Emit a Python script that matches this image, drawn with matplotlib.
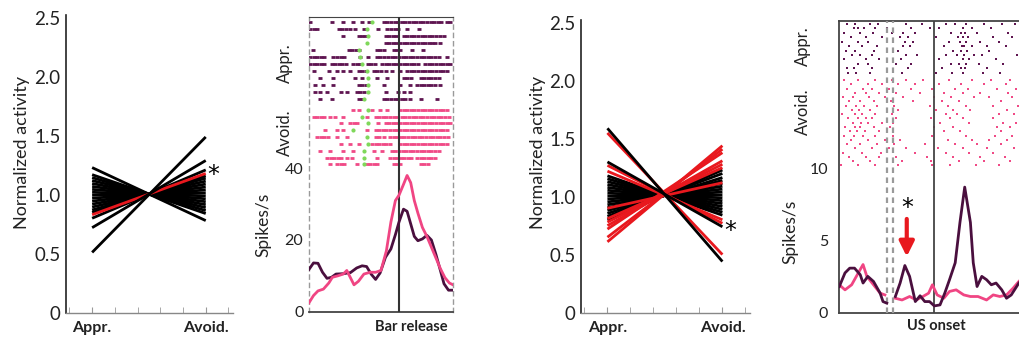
import numpy as np
import matplotlib
matplotlib.use('Agg')
import matplotlib.pyplot as plt

plt.rcParams['font.family'] = ['Lato', 'DejaVu Sans']

# ---------------- data ----------------
cond_labels = ['Appr.', 'Avoid.']

# panel 1: normalized activity (black = all neurons, red = significant)
p1_black_appr = [1.23, 1.17, 1.145, 1.12, 1.095, 1.07, 1.045, 1.02, 0.995, 0.97, 0.945, 0.92, 0.895, 0.87, 0.85, 0.80, 0.72, 0.51]
p1_black_avoid = [0.78, 0.84, 0.865, 0.89, 0.915, 0.94, 0.965, 0.99, 1.015, 1.04, 1.065, 1.09, 1.115, 1.14, 1.16, 1.21, 1.29, 1.49]
p1_red_appr = [0.83]
p1_red_avoid = [1.18]

# panel 3
p3_black_appr = [1.59, 1.30, 1.18, 1.155, 1.13, 1.105, 1.08, 1.055, 1.03, 1.005, 0.98, 0.955, 0.93, 0.905, 0.88, 0.855, 0.83, 0.80]
p3_black_avoid = [0.44, 0.74, 0.84, 0.865, 0.89, 0.915, 0.94, 0.965, 0.99, 1.015, 1.04, 1.065, 1.09, 1.115, 1.14, 1.165, 1.20, 1.23]
p3_red_appr = [1.55, 1.27, 1.22, 0.90, 0.81, 0.78, 0.75, 0.72, 0.65, 0.61]
p3_red_avoid = [0.50, 0.77, 0.80, 1.12, 1.25, 1.28, 1.31, 1.38, 1.41, 1.44]

# panel 2: PSTH around bar release (s, spikes/s)
p2_appr_t = [-1.0, -0.95, -0.90, -0.85, -0.80, -0.75, -0.70, -0.62, -0.54, -0.47, -0.41, -0.36, -0.31, -0.26, -0.21, -0.15,
             -0.09, -0.04, 0.0, 0.05, 0.09, 0.13, 0.17, 0.21, 0.26, 0.31, 0.36, 0.41, 0.46, 0.50, 0.55, 0.60]
p2_appr_v = [11.8, 13.6, 13.5, 11.0, 9.3, 9.6, 10.5, 10.6, 10.9, 12.2, 12.8, 12.6, 10.5, 9.0, 10.8, 15.2,
             17.5, 21.5, 25.0, 28.6, 28.0, 24.5, 21.0, 19.8, 20.3, 21.3, 20.0, 16.0, 11.5, 7.8, 6.0, 6.0]
p2_avoid_t = [-1.0, -0.95, -0.90, -0.84, -0.78, -0.74, -0.68, -0.62, -0.58, -0.54, -0.50, -0.45, -0.39, -0.32, -0.26, -0.20,
              -0.14, -0.09, -0.04, 0.0, 0.05, 0.09, 0.13, 0.17, 0.21, 0.26, 0.31, 0.36, 0.41, 0.46, 0.51, 0.56, 0.60]
p2_avoid_v = [2.5, 4.5, 5.8, 6.3, 8.0, 9.6, 10.0, 10.5, 11.5, 9.5, 7.5, 8.5, 10.5, 11.0, 11.0, 11.5,
              17.0, 25.0, 31.0, 32.5, 35.5, 38.0, 36.0, 31.0, 27.5, 23.5, 21.0, 18.0, 15.0, 12.0, 9.5, 8.0, 7.5]

# panel 2 raster: spike times (s) per trial
p2_appr_spikes = [
    [-0.99, -0.74, -0.62, -0.51, -0.41, -0.33, -0.17, -0.13, -0.09, -0.05, -0.01, 0.03, 0.07, 0.11, 0.15, 0.19, 0.23, 0.27, 0.31, 0.35, 0.39, 0.43, 0.47, 0.53, 0.57],
    [-0.99, -0.95, -0.91, -0.67, -0.63, -0.59, -0.55, -0.49, -0.39, -0.23, -0.13, -0.09, -0.05, -0.01, 0.09, 0.22],
    [-0.62, -0.45, -0.41, -0.38, -0.15, -0.11, -0.07, -0.03, 0.05, 0.09, 0.13, 0.17, 0.21, 0.25, 0.29, 0.33, 0.37, 0.41, 0.45, 0.50],
    [-0.15, -0.11, -0.07, -0.03, 0.01, 0.05, 0.09, 0.13, 0.17, 0.21, 0.25, 0.29, 0.33, 0.37, 0.40, 0.46],
    [-0.96, -0.56, -0.52, -0.48, -0.44, -0.25, -0.21, -0.17, -0.06, -0.02, 0.01, 0.14, 0.27],
    [-0.99, -0.95, -0.91, -0.87, -0.83, -0.73, -0.69, -0.65, -0.61, -0.43, -0.34, -0.25, -0.21, -0.17, -0.12, -0.08, -0.04, 0.0, 0.04, 0.08, 0.12, 0.16, 0.20, 0.24, 0.28, 0.32, 0.36, 0.40, 0.44, 0.53],
    [-0.99, -0.95, -0.91, -0.87, -0.83, -0.75, -0.71, -0.67, -0.63, -0.59, -0.51, -0.47, -0.43, -0.35, -0.31, -0.27, -0.19, -0.15, -0.11, -0.07, -0.03, 0.01, 0.05, 0.09, 0.13, 0.17, 0.21, 0.29, 0.33, 0.37, 0.41, 0.45, 0.49, 0.53, 0.57],
    [-0.95, -0.78, -0.69, -0.62, -0.54, -0.45, -0.41, -0.37, -0.28, -0.24, -0.20, -0.14, -0.08, 0.01, 0.09, 0.13, 0.17, 0.21, 0.25, 0.29, 0.33, 0.37, 0.41, 0.45, 0.49, 0.53],
    [-0.88, -0.73, -0.49, -0.41, -0.25, -0.13, 0.05, 0.09, 0.13, 0.24, 0.28, 0.32, 0.36, 0.40, 0.44],
    [-0.93, -0.84, -0.73, -0.45, -0.41, -0.37, -0.17, 0.01, 0.12, 0.20, 0.24, 0.28, 0.32, 0.36, 0.40, 0.46],
    [-0.93, -0.88, -0.80, -0.65, -0.58, -0.47, -0.43, -0.39, -0.15, -0.01, 0.05, 0.12],
    [-0.88, -0.75, -0.45, -0.41, -0.17, -0.13, -0.09, -0.05, -0.01, 0.03, 0.07, 0.12, 0.24, 0.42],
]
p2_avoid_spikes = [
    [-0.51, -0.45, -0.30, -0.21, -0.13, 0.01, 0.05, 0.09, 0.13, 0.17, 0.21, 0.25, 0.29, 0.33, 0.37, 0.41, 0.45, 0.49, 0.53],
    [-0.95, -0.91, -0.87, -0.83, -0.77, -0.71, -0.62, -0.36, -0.26, -0.22, -0.18, -0.14, -0.10, -0.06, -0.02, 0.03, 0.07, 0.11, 0.15, 0.19, 0.23, 0.27, 0.31, 0.35, 0.39, 0.43, 0.47, 0.51, 0.55],
    [-0.65, -0.54, -0.50, -0.47, -0.23, -0.15, -0.11, -0.07, -0.03, 0.01, 0.05, 0.09, 0.13, 0.17, 0.21, 0.25, 0.29, 0.33, 0.37, 0.41, 0.45, 0.49, 0.53, 0.57],
    [-0.82, -0.69, -0.62, -0.36, -0.26, -0.22, -0.18, -0.14, -0.10, -0.06, -0.02, 0.01, 0.05, 0.09, 0.13, 0.17, 0.21, 0.25, 0.29, 0.33, 0.37, 0.41, 0.45, 0.49, 0.53],
    [-0.91, -0.87, -0.83, -0.79, -0.69, -0.58, -0.26, -0.22, -0.17, -0.10, -0.06, -0.02, 0.02, 0.06, 0.10, 0.14, 0.18, 0.22, 0.26, 0.30, 0.34, 0.38, 0.42, 0.46, 0.50, 0.54],
    [-0.65, -0.54, -0.45, -0.30, -0.26, -0.22, -0.18, -0.14, -0.10, 0.01, 0.05, 0.09, 0.13, 0.17, 0.21, 0.25, 0.29, 0.33, 0.37, 0.41, 0.45, 0.49, 0.53],
    [-0.88, -0.77, -0.62, -0.51, -0.28, -0.19, -0.08, -0.04, 0.0, 0.04, 0.08, 0.12, 0.16, 0.20, 0.24, 0.28, 0.32, 0.36, 0.40, 0.44],
    [-0.80, -0.76, -0.72, -0.68, -0.64, -0.58, -0.52, -0.25, -0.10, -0.06, -0.02, 0.02, 0.06, 0.10, 0.13, 0.20, 0.24, 0.28, 0.32, 0.36, 0.40],
    [-0.77, -0.69, -0.65, -0.61, -0.47, -0.36, -0.32, -0.28, -0.24, -0.06, -0.02, 0.01, 0.24, 0.28, 0.32],
]
p2_appr_cue = [-0.30, -0.36, -0.34, -0.36, -0.44, -0.43, -0.41, -0.36, -0.34, -0.34, -0.34, -0.39]
p2_avoid_cue = [-0.34, -0.41, -0.34, -0.51, -0.36, -0.34, -0.39, -0.39, -0.39]

# panel 4: PSTH around US onset (nan = gap)
nan = float('nan')
p4_appr_t = [-1.0, -0.94, -0.89, -0.84, -0.78, -0.75, -0.70, -0.64, -0.57, -0.54, -0.50, nan, -0.41, -0.36, -0.31, -0.26, -0.20,
             -0.15, -0.10, -0.05, 0.0, 0.06, 0.11, 0.16, 0.22, 0.27, 0.32, 0.38, 0.41, 0.45, 0.50, 0.55, 0.60, 0.65, 0.71, 0.76, 0.81, 0.89]
p4_appr_v = [1.83, 2.77, 3.1, 3.1, 2.65, 2.07, 2.53, 2.18, 1.37, 0.79, 0.68, nan, 1.14, 2.07, 3.28, 2.53, 0.79,
             1.19, 0.79, 0.79, 0.49, 0.56, 1.37, 2.3, 3.47, 6.26, 8.7, 6.26, 3.47, 1.83, 2.53, 2.3, 1.95, 2.07, 1.6, 1.02, 1.25, 2.07]
p4_avoid_t = [-1.0, -0.94, -0.87, -0.80, -0.75, -0.71, -0.64, -0.57, -0.52, nan, -0.41, -0.34, -0.26, -0.19, -0.12, -0.06,
              -0.02, 0.03, 0.10, 0.16, 0.23, 0.31, 0.38, 0.46, 0.55, 0.62, 0.69, 0.76, 0.83, 0.89]
p4_avoid_v = [1.95, 1.6, 1.95, 2.77, 3.35, 2.53, 1.95, 1.37, 1.25, nan, 1.02, 0.9, 1.14, 0.9, 1.14, 1.37,
              1.95, 1.25, 1.02, 1.49, 1.6, 1.25, 1.14, 1.14, 0.9, 1.25, 1.14, 1.25, 1.72, 2.18]

p4_appr_spikes = [
    [-0.92, -0.83, -0.68, -0.59, -0.30, -0.13, 0.12, 0.22, 0.33, 0.52, 0.71, 0.85],
    [-0.85, -0.80, -0.74, -0.62, -0.50, -0.25, -0.05, 0.05, 0.30, 0.40, 0.60],
    [-0.95, -0.78, -0.65, -0.45, -0.33, -0.20, 0.18, 0.28, 0.32, 0.45, 0.78],
    [-0.88, -0.72, -0.55, -0.36, -0.28, 0.02, 0.25, 0.30, 0.35, 0.62, 0.82],
    [-0.97, -0.80, -0.70, -0.31, -0.22, 0.15, 0.27, 0.33, 0.48, 0.68],
    [-0.90, -0.76, -0.60, -0.33, -0.26, 0.10, 0.29, 0.31, 0.40, 0.55, 0.75],
    [-0.93, -0.84, -0.63, -0.38, 0.20, 0.28, 0.34, 0.58],
    [-0.87, -0.78, -0.66, -0.30, -0.18, 0.12, 0.24, 0.31, 0.42, 0.50, 0.87],
    [-0.95, -0.72, -0.58, -0.35, 0.05, 0.30, 0.36, 0.65],
    [-0.80, -0.70, -0.40, -0.25, 0.18, 0.26, 0.33, 0.47, 0.72],
    [-0.92, -0.85, -0.66, -0.28, 0.08, 0.28, 0.32, 0.55],
    [-0.91, -0.82, -0.68, -0.34, 0.02, 0.19, 0.30, 0.51, 0.69],
]
p4_avoid_spikes = [
    [-0.95, -0.80, -0.62, -0.45, -0.30, -0.12, 0.15, 0.40, 0.60, 0.80],
    [-0.88, -0.70, -0.55, -0.38, -0.20, 0.05, 0.28, 0.52, 0.75],
    [-0.92, -0.75, -0.66, -0.48, -0.25, -0.02, 0.22, 0.35, 0.66, 0.86],
    [-0.84, -0.72, -0.58, -0.40, -0.15, 0.10, 0.30, 0.48, 0.78],
    [-0.96, -0.86, -0.69, -0.52, -0.33, 0.00, 0.18, 0.42, 0.58, 0.82],
    [-0.90, -0.78, -0.64, -0.46, -0.22, 0.08, 0.26, 0.70],
    [-0.93, -0.82, -0.74, -0.60, -0.42, -0.05, 0.14, 0.33, 0.62, 0.88],
    [-0.87, -0.79, -0.68, -0.50, -0.38, 0.02, 0.20, 0.38, 0.76],
    [-0.97, -0.84, -0.76, -0.62, -0.45, 0.12, 0.24, 0.68, 0.84],
    [-0.91, -0.80, -0.72, -0.66, -0.40, -0.03, 0.16, 0.30, 0.62],
    [-0.86, -0.77, -0.70, -0.55, -0.43, 0.06, 0.36, 0.72, 0.86],
    [-0.94, -0.83, -0.78, -0.64, -0.47, 0.00, 0.20, 0.66, 0.80],
    [-0.89, -0.81, -0.73, -0.58, 0.10, 0.27, 0.70],
    [-0.95, -0.85, -0.75, -0.62, -0.44, -0.02, 0.33, 0.64, 0.82],
    [-0.88, -0.70, -0.52, -0.36, 0.14, 0.40, 0.58, 0.76],
    [-0.92, -0.78, -0.60, -0.42, -0.10, 0.22, 0.45, 0.70],
    [-0.84, -0.66, -0.48, -0.30, 0.04, 0.30, 0.55, 0.84],
    [-0.96, -0.76, -0.56, -0.20, 0.12, 0.36, 0.62],
    [-0.90, -0.72, -0.58, -0.40, -0.08, 0.20, 0.48, 0.74],
    [-0.86, -0.68, -0.50, -0.34, -0.04, 0.26, 0.52, 0.80],
    [-0.98, -0.80, -0.62, -0.38, -0.02, 0.16, 0.44, 0.68],
]

# ---------------- style ----------------
DARK = '#4a0f3e'
PINK = '#f04583'
RAST_DARK = '#5e1450'
RAST_PINK = '#f04a86'
CUE = '#7fd85a'
RED = '#e8181e'

W, H = 1019, 341
fig = plt.figure(figsize=(W / 100, H / 100), dpi=100)


def ax_px(l, t, r, b):
    return fig.add_axes([l / W, 1 - b / H, (r - l) / W, (b - t) / H])


def ftext(x, y, s, **kw):
    fig.text(x / W, 1 - y / H, s, **kw)


def fan_panel(ax, b_appr, b_avoid, r_appr, r_avoid):
    for a, v in zip(b_appr, b_avoid):
        z = 3 if abs(a - 1) > 0.25 else 2
        ax.plot([0, 1], [a, v], color='black', lw=2.0, solid_capstyle='butt', zorder=z)
    for a, v in zip(r_appr, r_avoid):
        ax.plot([0, 1], [a, v], color=RED, lw=2.0, solid_capstyle='butt', zorder=2.5)
    ax.set_xlim(-0.23, 1.24)
    ax.set_ylim(0, 2.525)
    for s in ['top', 'right']:
        ax.spines[s].set_visible(False)
    ax.spines['left'].set_color('#222222')
    ax.spines['left'].set_linewidth(1.2)
    ax.spines['bottom'].set_color('#888888')
    ax.spines['bottom'].set_linewidth(1.0)
    ax.set_yticks([0, 0.5, 1.0, 1.5, 2.0, 2.5])
    ax.set_yticklabels(['0', '0.5', '1.0', '1.5', '2.0', '2.5'])
    ax.tick_params(axis='y', length=0, pad=4, labelsize=13.5, labelcolor='#222222')
    ax.set_xticks([0, 1])
    ax.set_xticklabels(cond_labels, fontweight='bold', fontsize=11.5, color='#222222')
    ax.set_xticks([-0.2, 0.2, 0.4, 0.6, 0.8, 1.2], minor=True)
    ax.tick_params(axis='x', which='both', direction='in', length=4, color='#999999', pad=6)


# ---------- panel 1 ----------
ax1 = ax_px(66, 15, 233, 312.5)
fan_panel(ax1, p1_black_appr, p1_black_avoid, p1_red_appr, p1_red_avoid)
ax1.text(1.065, 1.17, '*', fontsize=17, ha='center', va='center', family='DejaVu Sans')
ftext(22, 152, 'Normalized activity', rotation=90, ha='center', va='center', fontsize=13, color='#222222')

# ---------- panel 3 ----------
ax3 = ax_px(581, 20, 750, 312.5)
fan_panel(ax3, p3_black_appr, p3_black_avoid, p3_red_appr, p3_red_avoid)
ax3.text(1.065, 0.70, '*', fontsize=17, ha='center', va='center', family='DejaVu Sans')
ftext(538, 152, 'Normalized activity', rotation=90, ha='center', va='center', fontsize=13, color='#222222')

# ---------- panel 2 ----------
ax2 = ax_px(309, 17, 453, 311.7)
ax2.set_xlim(-1.0, 0.6)
ax2.set_ylim(0, 82.2)
ax2.axvline(0, color='#333333', lw=1.5, zorder=4)
for i, row in enumerate(p2_appr_spikes):
    y = 80.7 - i * 1.945
    ax2.plot(row, [y] * len(row), ls='none', marker='_', ms=3.4, mew=2.0, color=RAST_DARK, zorder=2)
    ax2.plot([p2_appr_cue[i]], [y], ls='none', marker='o', ms=3.0, mew=0, color=CUE, zorder=3)
for i, row in enumerate(p2_avoid_spikes):
    y = 56.3 - i * 1.9
    ax2.plot(row, [y] * len(row), ls='none', marker='_', ms=3.4, mew=2.0, color=RAST_PINK, zorder=2)
    ax2.plot([p2_avoid_cue[i]], [y], ls='none', marker='o', ms=3.0, mew=0, color=CUE, zorder=3)
ax2.plot(p2_appr_t, p2_appr_v, color=DARK, lw=2.0, zorder=5)
ax2.plot(p2_avoid_t, p2_avoid_v, color=PINK, lw=2.0, zorder=5)
for s in ['left', 'right']:
    ax2.spines[s].set_linestyle((0, (3, 3)))
    ax2.spines[s].set_color('#9a9a9a')
    ax2.spines[s].set_linewidth(1.0)
ax2.spines['top'].set_color('#444444')
ax2.spines['bottom'].set_color('#444444')
ax2.spines['bottom'].set_linewidth(1.3)
ax2.set_xticks([])
ax2.set_yticks([0, 20, 40])
ax2.tick_params(axis='y', length=0, pad=4, labelsize=11.5, labelcolor='#222222')
ftext(263, 225, 'Spikes/s', rotation=90, ha='center', va='center', fontsize=12.5, color='#222222')
ftext(285, 63, 'Appr.', rotation=90, ha='center', va='center', fontsize=12, color='#222222')
ftext(285, 133, 'Avoid.', rotation=90, ha='center', va='center', fontsize=12, color='#222222')
ftext(411, 327, 'Bar release', ha='center', va='center', fontsize=10.5, fontweight='bold', color='#222222')

# ---------- panel 4 ----------
ax4 = ax_px(839.3, 20.7, 1060, 313)
ax4.set_xlim(-1.0, 1.323)
ax4.set_ylim(0, 20.2)
ax4.axvline(0, color='#444444', lw=1.3, zorder=4)
for xv in (-0.5, -0.43):
    ax4.axvline(xv, color='#9a9a9a', lw=1.6, ls=(0, (2.5, 2)), zorder=4)
for i, row in enumerate(p4_appr_spikes):
    y = 20.0 - i * 0.31
    ax4.plot(row, [y] * len(row), ls='none', marker='s', ms=1.8, mew=0, color=RAST_DARK, zorder=2)
for i, row in enumerate(p4_avoid_spikes):
    y = 16.1 - i * 0.295
    ax4.plot(row, [y] * len(row), ls='none', marker='s', ms=1.8, mew=0, color=RAST_PINK, zorder=2)
ax4.plot(p4_avoid_t, p4_avoid_v, color=PINK, lw=2.0, zorder=5)
ax4.plot(p4_appr_t, p4_appr_v, color=DARK, lw=2.0, zorder=6)
for s in ['left', 'top', 'bottom']:
    ax4.spines[s].set_color('#444444')
    ax4.spines[s].set_linewidth(1.3)
ax4.spines['right'].set_visible(False)
ax4.set_xticks([])
ax4.set_yticks([0, 5, 10])
ax4.tick_params(axis='y', length=0, pad=8, labelsize=11.5, labelcolor='#222222')
ax4.annotate('', xy=(-0.29, 3.9), xytext=(-0.29, 6.5),
             arrowprops=dict(arrowstyle='-|>', color=RED, lw=3, mutation_scale=22, shrinkA=0, shrinkB=0), zorder=7)
ax4.text(-0.29, 7.25, '*', fontsize=17, ha='center', va='center', family='DejaVu Sans')
ftext(790, 232, 'Spikes/s', rotation=90, ha='center', va='center', fontsize=12.5, color='#222222')
ftext(803, 46, 'Appr.', rotation=90, ha='center', va='center', fontsize=12, color='#222222')
ftext(803, 112, 'Avoid.', rotation=90, ha='center', va='center', fontsize=12, color='#222222')
ftext(936, 326, 'US onset', ha='center', va='center', fontsize=10.5, fontweight='bold', color='#222222')

fig.savefig('out.png', dpi=100)
